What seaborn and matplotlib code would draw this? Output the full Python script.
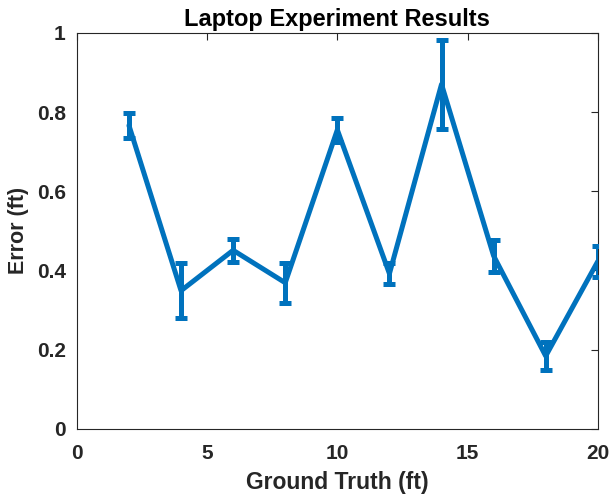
import numpy as np
import pandas as pd
import matplotlib
matplotlib.use("Agg")
import matplotlib.pyplot as plt
import seaborn as sns

# dados
distancia = [2, 4, 6, 8, 10, 12, 14, 16, 18, 20]
erro = [0.766, 0.349, 0.451, 0.369, 0.755, 0.392, 0.870, 0.437, 0.184, 0.423]
desvio = [0.032, 0.069, 0.029, 0.051, 0.030, 0.027, 0.112, 0.041, 0.035, 0.040]

df = pd.DataFrame({"dist": distancia, "erro": erro, "desvio": desvio})

sns.set_style("white")
plt.rcParams["font.family"] = ["Liberation Sans", "DejaVu Sans"]
plt.rcParams["font.weight"] = "bold"

cor = "#0072BD"

fig = plt.figure(figsize=(6.1, 4.97), dpi=100)
ax = fig.add_axes([0.126, 0.137, 0.854, 0.797])

sns.lineplot(data=df, x="dist", y="erro", color=cor, linewidth=3.6, ax=ax, zorder=3)
ax.errorbar(df["dist"], df["erro"], yerr=df["desvio"], fmt="none", ecolor=cor,
            elinewidth=3.6, capsize=4, capthick=3.6, zorder=3)

ax.set_xlim(0, 20)
ax.set_ylim(0, 1)
ax.set_xticks([0, 5, 10, 15, 20])
ax.set_yticks([0, 0.2, 0.4, 0.6, 0.8, 1])
ax.set_yticklabels(["0", "0.2", "0.4", "0.6", "0.8", "1"])
ax.tick_params(direction="in", length=5, width=0.8, colors="#262626",
               labelsize=15, top=True, right=True, labelcolor="#262626")
ax.tick_params(axis="x", pad=11)
ax.tick_params(axis="y", pad=8)
for s in ax.spines.values():
    s.set_color("#262626")
    s.set_linewidth(0.8)

ax.set_title("Laptop Experiment Results", fontsize=17, fontweight="bold", pad=5,
             color="black")
ax.set_xlabel("Ground Truth (ft)", fontsize=16.5, fontweight="bold", color="#262626")
ax.set_ylabel("Error (ft)", fontsize=15.5, fontweight="bold", color="#262626")
ax.xaxis.set_label_coords(0.5, -0.105)
ax.yaxis.set_label_coords(-0.092, 0.5)

plt.savefig("out.png", dpi=100)
